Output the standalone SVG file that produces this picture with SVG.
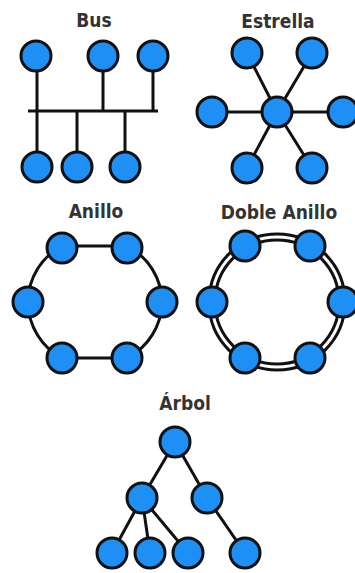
<svg xmlns="http://www.w3.org/2000/svg" width="355" height="573" viewBox="0 0 355 573">
<style>
.n{fill:#1e8ff5;stroke:#111;stroke-width:3}
.e{stroke:#111;stroke-width:3;fill:none}
.t{font-family:"DejaVu Sans Condensed","DejaVu Sans",sans-serif;font-weight:bold;font-size:19px;fill:#333;text-anchor:middle}
</style>
<rect width="355" height="573" fill="#fff"/>
<text class="t" x="94" y="27">Bus</text>
<text class="t" x="278" y="28">Estrella</text>
<text class="t" x="96" y="218">Anillo</text>
<text class="t" x="279" y="219">Doble Anillo</text>
<text class="t" x="185" y="410">Árbol</text>
<g id="connectors">
<path class="e" d="M28 111H158M37 55V167M103 55V111M153 55V111M77 111V167M125 111V167"/>
<path class="e" d="M277 112L247 53M277 112L312 53M277 112H212M277 112H343M277 112L247 168M277 112L312 168"/>
<path class="e" d="M62 246L127 246A64 64 0 0 1 162 302A64 64 0 0 1 127 358L62 358A64 64 0 0 1 28 302A64 64 0 0 1 62 246Z"/>
<circle cx="277" cy="302" r="65" fill="none" stroke="#111" stroke-width="9"/>
<circle cx="277" cy="302" r="65" fill="none" stroke="#fff" stroke-width="3"/>
<path class="e" d="M175 442L142 498M175 442L207 498M142 498L112 553M142 498L150 553M142 498L188 553M207 498L245 553"/>
</g>
<g id="bus-1"><circle class="n" cx="36" cy="56" r="15"/></g>
<g id="bus-2"><circle class="n" cx="103" cy="56" r="15"/></g>
<g id="bus-3"><circle class="n" cx="153" cy="56" r="15"/></g>
<g id="bus-4"><circle class="n" cx="37" cy="167" r="15"/></g>
<g id="bus-5"><circle class="n" cx="77" cy="167" r="15"/></g>
<g id="bus-6"><circle class="n" cx="125" cy="167" r="15"/></g>
<g id="star-c"><circle class="n" cx="277" cy="112" r="15"/></g>
<g id="star-1"><circle class="n" cx="247" cy="53" r="15"/></g>
<g id="star-2"><circle class="n" cx="312" cy="53" r="15"/></g>
<g id="star-3"><circle class="n" cx="212" cy="112" r="15"/></g>
<g id="star-4"><circle class="n" cx="343" cy="112" r="15"/></g>
<g id="star-5"><circle class="n" cx="247" cy="168" r="15"/></g>
<g id="star-6"><circle class="n" cx="312" cy="168" r="15"/></g>
<g id="ring-1"><circle class="n" cx="62" cy="248" r="15"/></g>
<g id="ring-2"><circle class="n" cx="127" cy="248" r="15"/></g>
<g id="ring-3"><circle class="n" cx="28" cy="302" r="15"/></g>
<g id="ring-4"><circle class="n" cx="162" cy="302" r="15"/></g>
<g id="ring-5"><circle class="n" cx="62" cy="358" r="15"/></g>
<g id="ring-6"><circle class="n" cx="127" cy="358" r="15"/></g>
<g id="dring-1"><circle class="n" cx="245" cy="246" r="15"/></g>
<g id="dring-2"><circle class="n" cx="310" cy="246" r="15"/></g>
<g id="dring-3"><circle class="n" cx="212" cy="302" r="15"/></g>
<g id="dring-4"><circle class="n" cx="343" cy="302" r="15"/></g>
<g id="dring-5"><circle class="n" cx="245" cy="358" r="15"/></g>
<g id="dring-6"><circle class="n" cx="310" cy="358" r="15"/></g>
<g id="tree-root"><circle class="n" cx="175" cy="442" r="15"/></g>
<g id="tree-l"><circle class="n" cx="142" cy="498" r="15"/></g>
<g id="tree-r"><circle class="n" cx="207" cy="498" r="15"/></g>
<g id="tree-1"><circle class="n" cx="112" cy="553" r="15"/></g>
<g id="tree-2"><circle class="n" cx="150" cy="553" r="15"/></g>
<g id="tree-3"><circle class="n" cx="188" cy="553" r="15"/></g>
<g id="tree-4"><circle class="n" cx="245" cy="553" r="15"/></g>
</svg>
